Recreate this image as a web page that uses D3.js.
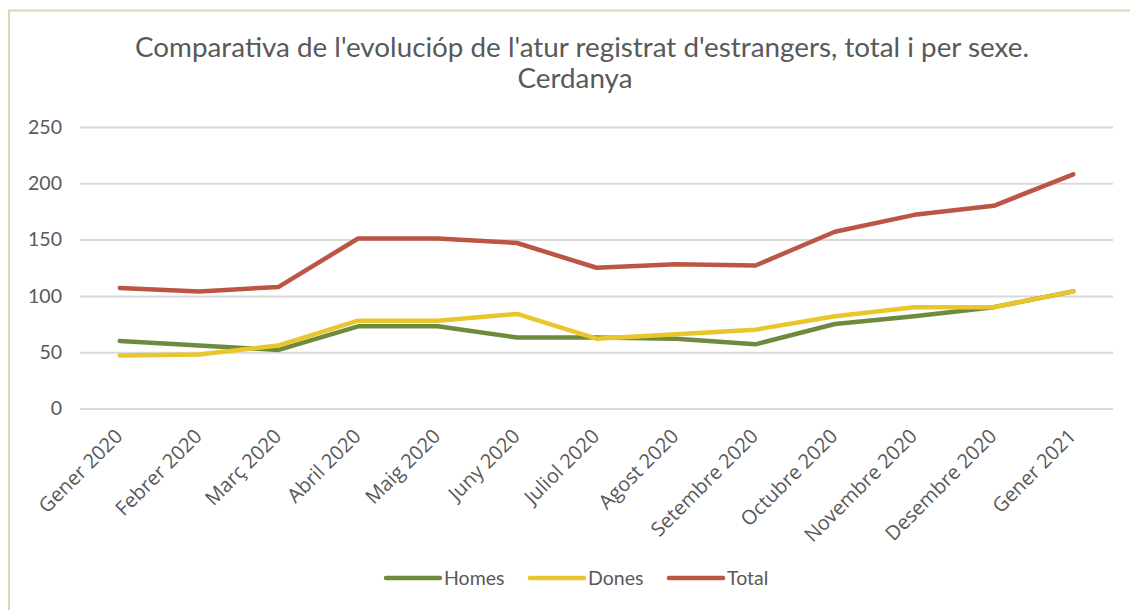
<!DOCTYPE html>
<html>
<head>
<meta charset="utf-8">
<script src="https://cdn.jsdelivr.net/npm/d3@7"></script>
<style>
  html, body { margin: 0; padding: 0; background: #ffffff; }
  svg { display: block; }
</style>
</head>
<body>
<div id="chart"></div>
<script>
// Monthly registered unemployment of foreign residents, Cerdanya
const months = ["Gener 2020", "Febrer 2020", "Març 2020", "Abril 2020", "Maig 2020", "Juny 2020",
  "Juliol 2020", "Agost 2020", "Setembre 2020", "Octubre 2020", "Novembre 2020", "Desembre 2020", "Gener 2021"];
const homes = [60, 56, 52, 73, 73, 63, 63, 62, 57, 75, 82, 90, 104];
const dones = [47, 48, 56, 78, 78, 84, 62, 66, 70, 82, 90, 90, 104];
const total = [107, 104, 108, 151, 151, 147, 125, 128, 127, 157, 172, 180, 208];
const yTicks = [0, 50, 100, 150, 200, 250];

const seriesNames = ["Homes", "Dones", "Total"];
const seriesValues = [homes, dones, total];
const seriesColors = ["#6e8b3d", "#e8c62c", "#bc5543"];

const W = 1130, H = 610;
const margin = { left: 80, right: 17, top: 127, bottom: 202 };
const svg = d3.select("#chart").append("svg").attr("width", W).attr("height", H);

// Chart area frame
svg.append("rect")
  .attr("x", 9).attr("y", 10.5)
  .attr("width", W + 10).attr("height", H + 10)
  .attr("fill", "#ffffff")
  .attr("stroke", "#d0dcb6").attr("stroke-width", 2);

const x = d3.scaleBand().domain(months).range([margin.left, W - margin.right]);
const y = d3.scaleLinear().domain([0, 250]).range([H - margin.bottom + 0.5, margin.top]);

const textColor = "#595959";
const uiFont = "Lato, 'Open Sans', sans-serif";

// Title
const title = svg.append("text")
  .attr("text-anchor", "middle")
  .attr("font-family", uiFont)
  .attr("font-size", 27.8)
  .attr("fill", textColor);
title.append("tspan").attr("x", 582).attr("y", 57)
  .text("Comparativa de l'evolucióp de l'atur registrat d'estrangers, total i per sexe.");
title.append("tspan").attr("x", 575).attr("y", 88).text("Cerdanya");

// Y axis with gridlines
const yAxis = svg.append("g")
  .attr("transform", `translate(${margin.left},0)`)
  .call(d3.axisLeft(y).tickValues(yTicks).tickSize(-(W - margin.left - margin.right)).tickPadding(18));
yAxis.select(".domain").remove();
yAxis.selectAll(".tick line").attr("stroke", "#d9d9d9").attr("stroke-width", 2);
yAxis.selectAll(".tick text")
  .attr("font-family", uiFont).attr("font-size", 19.5).attr("fill", textColor);

// X axis labels, rotated
const xAxis = svg.append("g")
  .attr("transform", `translate(0,${y(0)})`)
  .call(d3.axisBottom(x).tickSize(0).tickPadding(0));
xAxis.select(".domain").remove();
xAxis.selectAll(".tick text")
  .attr("font-family", "'Open Sans', sans-serif")
  .attr("font-size", 20)
  .attr("fill", textColor)
  .attr("text-anchor", "end")
  .attr("dy", 0)
  .attr("transform", "translate(4,29) rotate(-45)");

// Series lines
const line = d3.line()
  .x((d, i) => x(months[i]) + x.bandwidth() / 2)
  .y(d => y(d));

seriesValues.forEach((vals, k) => {
  svg.append("path")
    .datum(vals)
    .attr("d", line)
    .attr("fill", "none")
    .attr("stroke", seriesColors[k])
    .attr("stroke-width", 4.5)
    .attr("stroke-linejoin", "round")
    .attr("stroke-linecap", "round");
});

// Legend
const legendX = [386, 530, 669];
const legend = svg.append("g");
seriesNames.forEach((name, k) => {
  const g = legend.append("g").attr("transform", `translate(${legendX[k]},578)`);
  g.append("line")
    .attr("x1", 0).attr("x2", 54)
    .attr("stroke", seriesColors[k]).attr("stroke-width", 4.5)
    .attr("stroke-linecap", "round");
  g.append("text")
    .attr("x", 58).attr("y", 7)
    .attr("font-family", uiFont).attr("font-size", 19.5)
    .attr("fill", textColor)
    .text(name);
});
</script>
</body>
</html>
